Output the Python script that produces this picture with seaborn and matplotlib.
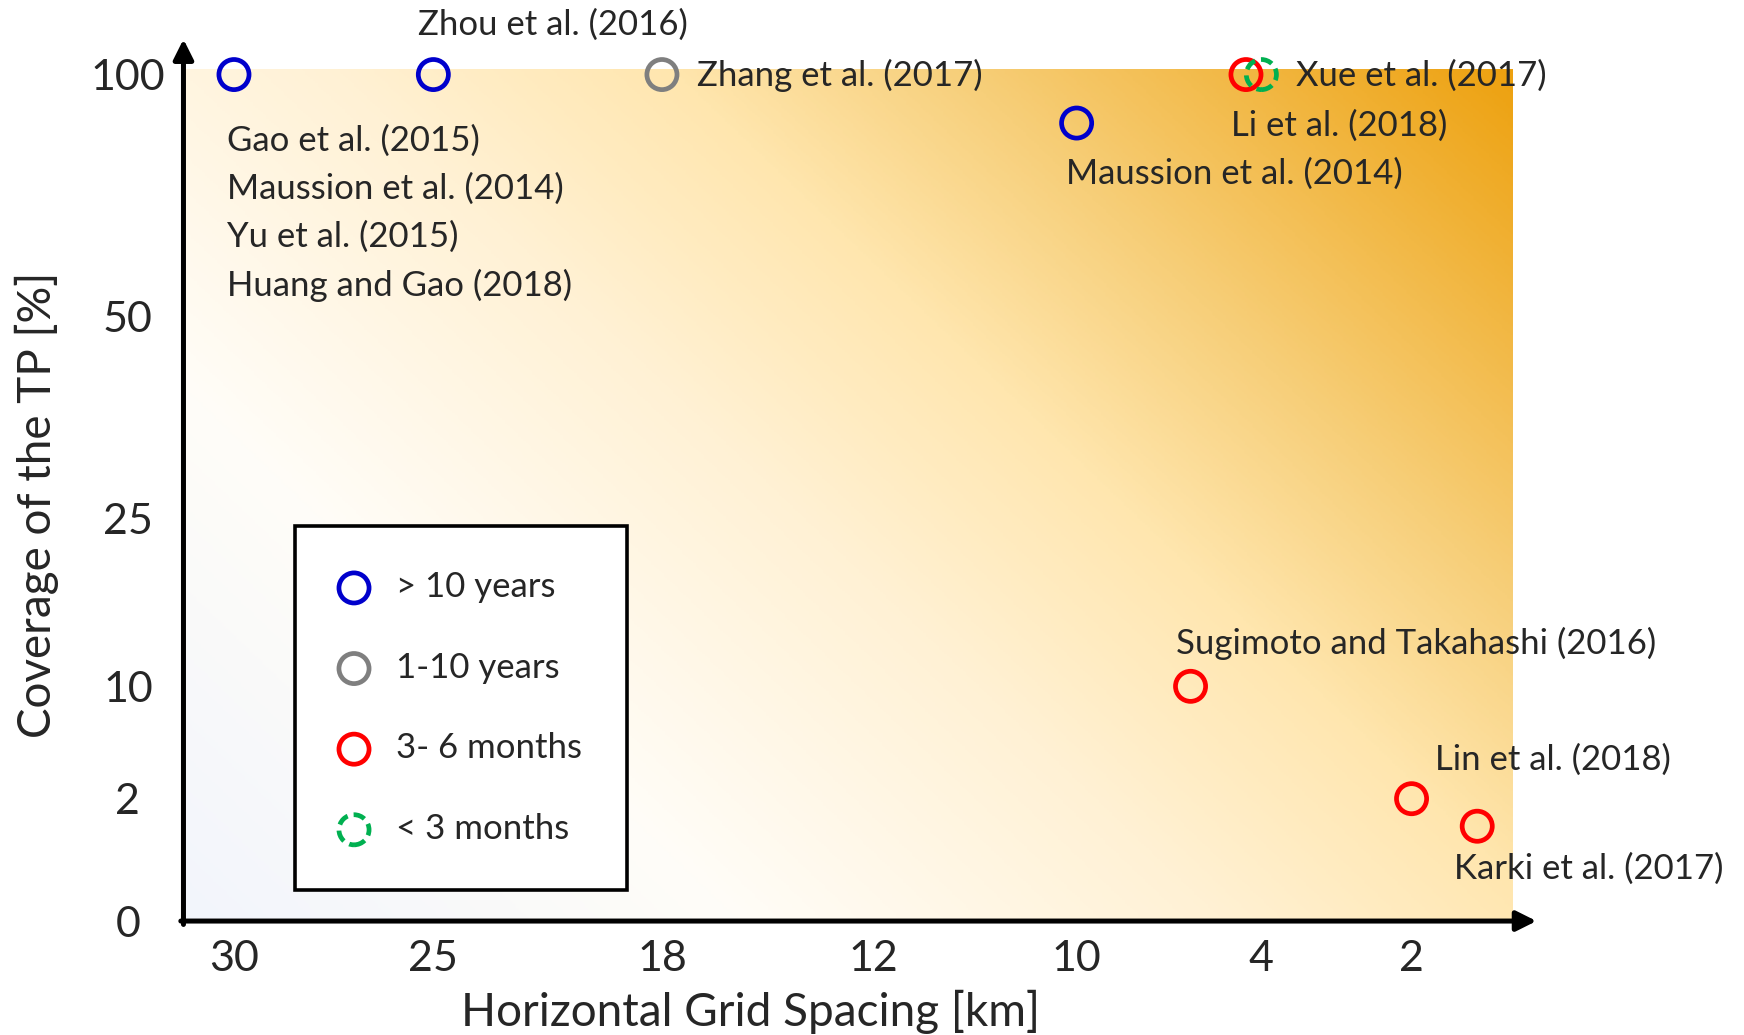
import numpy as np
import pandas as pd
import seaborn as sns
import matplotlib
matplotlib.use('Agg')
import matplotlib.pyplot as plt
from matplotlib.colors import LinearSegmentedColormap

# values
studies = ['Gao et al. (2015)\nMaussion et al. (2014)\nYu et al. (2015)\nHuang and Gao (2018)',
           'Zhou et al. (2016)', 'Zhang et al. (2017)', 'Maussion et al. (2014)',
           'Li et al. (2018)', 'Xue et al. (2017)', 'Sugimoto and Takahashi (2016)',
           'Lin et al. (2018)', 'Karki et al. (2017)']
spacing_km = [30, 25, 18, 10, 4.5, 4, 6.3, 2, 1.35]
coverage_pct = [100, 100, 100, 90, 100, 100, 10, 2, 1.55]
period = ['> 10 years', '> 10 years', '1-10 years', '> 10 years', '3- 6 months',
          '< 3 months', '3- 6 months', '3- 6 months', '3- 6 months']

period_order = ['> 10 years', '1-10 years', '3- 6 months', '< 3 months']
period_colors = ['#0000CC', '#7F7F7F', '#FF0000', '#00B050']

x_ticks_km = [30, 25, 18, 12, 10, 4, 2]
y_ticks_pct = [0, 2, 10, 25, 50, 100]

df = pd.DataFrame({'study': studies, 'km': spacing_km, 'cov': coverage_pct, 'period': period})

# the axes are not linear: piecewise mapping value -> axes fraction
x_anchor_km = np.array([32, 30, 25, 18, 12, 10, 4, 2, 1])
x_anchor_pos = np.array([0, 0.038, 0.188, 0.360, 0.519, 0.672, 0.811, 0.924, 1.0])
y_anchor_pct = np.array([0, 2, 10, 25, 50, 100, 101])
y_anchor_pos = np.array([0, 0.1436, 0.2755, 0.4726, 0.709, 0.9935, 1.0])

def x_fwd(v):
    return np.interp(-np.asarray(v, float), -x_anchor_km, x_anchor_pos)

def x_inv(p):
    return -np.interp(np.asarray(p, float), x_anchor_pos, -x_anchor_km)

def y_fwd(v):
    return np.interp(np.asarray(v, float), y_anchor_pct, y_anchor_pos)

def y_inv(p):
    return np.interp(np.asarray(p, float), y_anchor_pos, y_anchor_pct)

sns.set_style('white')
plt.rcParams['font.family'] = ['Lato', 'DejaVu Sans']

fig = plt.figure(figsize=(17.44, 10.35), dpi=100)
rect = [0.1052, 0.1101, 0.7621, 0.8232]

# background gradient
bg = fig.add_axes(rect, zorder=0)
u, v = np.meshgrid(np.linspace(0, 1, 500), np.linspace(0, 1, 400))
t = 0.6 * u + 0.4 * v
cmap = LinearSegmentedColormap.from_list('bg', [
    (0.0, '#F2F5FC'), (0.25, '#FFFDF8'), (0.47, '#FFF1D4'), (0.62, '#FFE6AE'),
    (0.75, '#F7CF7A'), (1.0, '#EDA10F')])
bg.imshow(t, cmap=cmap, origin='lower', aspect='auto', extent=(0, 1, 0, 1), vmin=0, vmax=1)
bg.axis('off')

ax = fig.add_axes(rect, zorder=1)
ax.patch.set_alpha(0)
ax.set_xscale('function', functions=(x_fwd, x_inv))
ax.set_yscale('function', functions=(y_fwd, y_inv))
ax.set_xlim(1, 32)
ax.set_ylim(0, 101)

for p, col in zip(period_order, period_colors):
    sub = df[df['period'] == p]
    ls = (0, (2.5, 1.3)) if p == '< 3 months' else 'solid'
    sns.scatterplot(data=sub, x='km', y='cov', ax=ax, s=470, marker='o',
                    facecolor='none', edgecolor=col, linewidth=3.4, linestyle=ls,
                    label=p, clip_on=False, zorder=3, legend=False)

# study labels (pixel offsets from each point)
offsets = [(-7, -50, 'top'), (-15, 50, 'center'), (35, -1, 'center'), (-11, -51, 'center'),
           (-15, -51, 'center'), (35, -1, 'center'), (-15, 43, 'center'),
           (23, 39, 'center'), (-23, -43, 'center')]
for (name, xk, yc), (dx, dy, va) in zip(zip(studies, spacing_km, coverage_pct), offsets):
    ax.annotate(name, xy=(xk, yc), xytext=(dx, dy), textcoords='offset pixels',
                ha='left', va=va, fontsize=25, linespacing=1.6, annotation_clip=False)

# arrow axes
arrow = dict(arrowstyle='-|>', lw=3.6, color='black', mutation_scale=30, shrinkA=0, shrinkB=0)
ax.annotate('', xy=(0, 1.035), xytext=(0, -0.004), xycoords='axes fraction', arrowprops=arrow,
            annotation_clip=False)
ax.annotate('', xy=(1.018, 0), xytext=(-0.002, 0), xycoords='axes fraction', arrowprops=arrow,
            annotation_clip=False)
for s in ax.spines.values():
    s.set_visible(False)

ax.set_xticks(x_ticks_km)
ax.set_xticklabels([str(k) for k in x_ticks_km])
ax.set_yticks(y_ticks_pct)
ax.set_yticklabels([str(k) for k in y_ticks_pct], ha='center')
ax.tick_params(axis='both', length=0, labelsize=31)
ax.tick_params(axis='x', pad=14)
ax.tick_params(axis='y', pad=40)

ax.set_xlabel('Horizontal Grid Spacing [km]', fontsize=33)
ax.xaxis.set_label_coords(0.427, -0.107)
ax.xaxis.label.set_va('center')
ax.set_ylabel('Coverage of the TP [%]', fontsize=33)
ax.yaxis.set_label_coords(-0.110, 0.489)
ax.yaxis.label.set_va('center')

leg = ax.legend(loc='lower left', bbox_to_anchor=(0.0839, 0.0364), frameon=True, fancybox=False,
                edgecolor='black', framealpha=1, fontsize=25, labelspacing=1.4, borderpad=1.3,
                handlelength=0.8, handletextpad=0.8, borderaxespad=0, scatterpoints=1)
leg.get_frame().set_linewidth(2.6)

plt.savefig('out.png', dpi=100)
